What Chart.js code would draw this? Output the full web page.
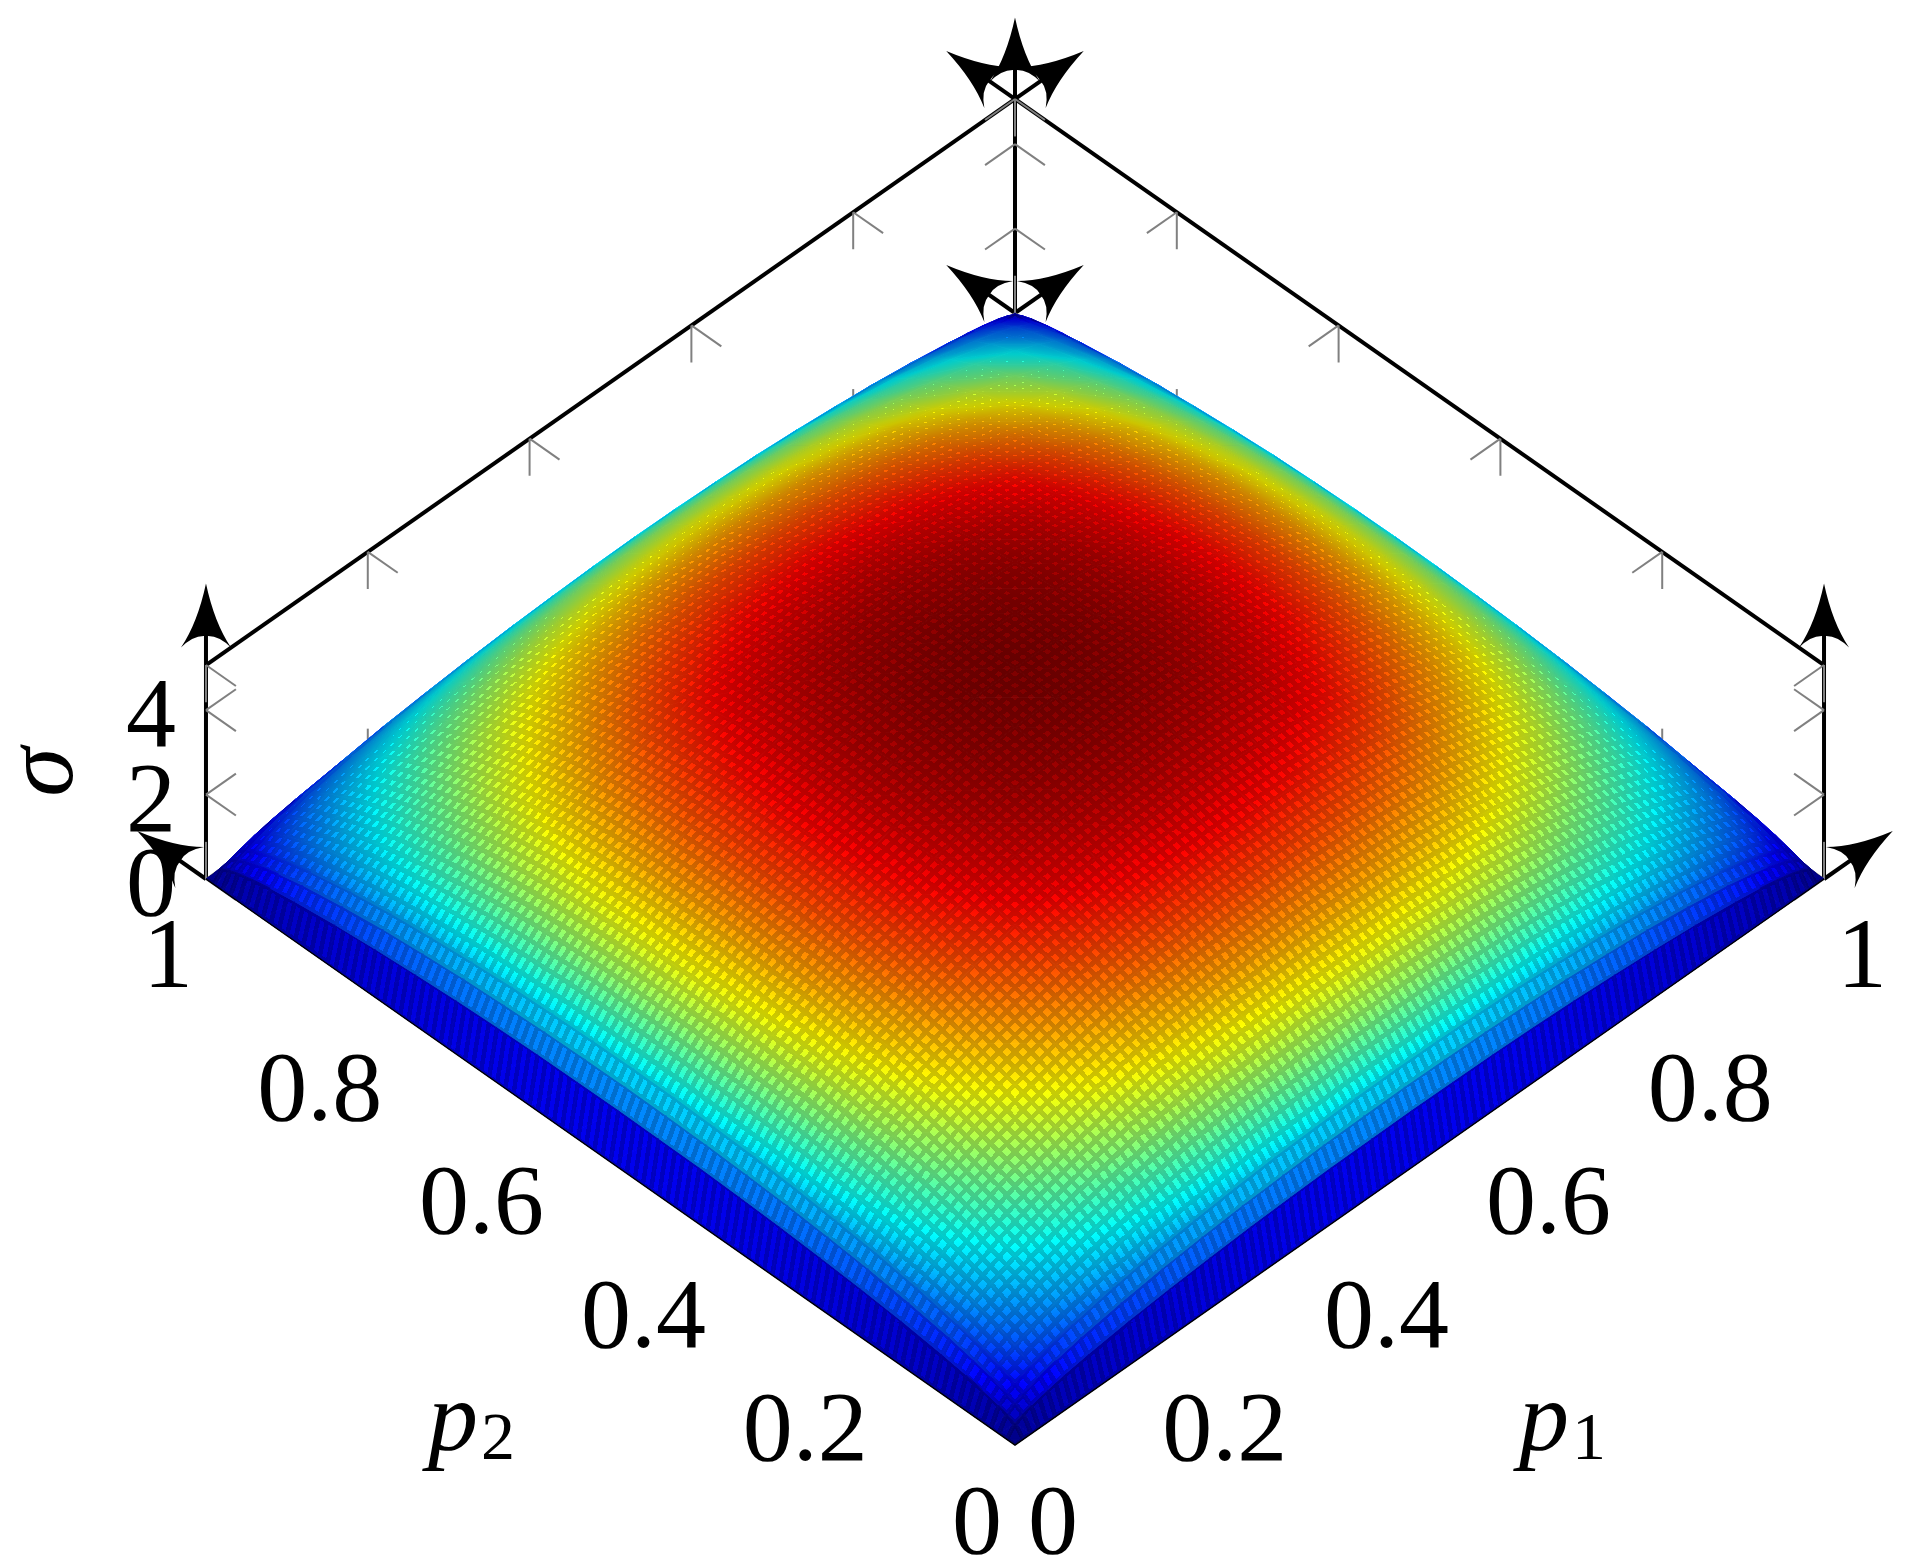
<!DOCTYPE html>
<html>
<head>
<meta charset="utf-8">
<title>sigma surface</title>
<script src="https://cdn.jsdelivr.net/npm/chart.js@4"></script>
<style>
  html, body { margin: 0; padding: 0; background: #fff; }
  canvas { display: block; }
</style>
</head>
<body>
<canvas id="surface_chart" width="1905" height="1563"></canvas>
<script>
// grid nodes from p = 0 to p = 0.5, the other half of the surface mirrors them
var pNodes = [0, 0.01, 0.02, 0.03, 0.05, 0.07, 0.1, 0.15, 0.2, 0.25, 0.3, 0.35, 0.4, 0.45, 0.5];

// sigma at (pNodes[row], pNodes[col])
var sigmaRows = [
    [0, 0, 0, 0, 0, 0, 0, 0, 0, 0, 0, 0, 0, 0, 0],
    [0, 0.24, 0.33, 0.40, 0.50, 0.58, 0.67, 0.79, 0.88, 0.95, 1.01, 1.05, 1.08, 1.09, 1.10],
    [0, 0.33, 0.45, 0.54, 0.68, 0.79, 0.92, 1.08, 1.21, 1.30, 1.38, 1.43, 1.47, 1.49, 1.50],
    [0, 0.40, 0.54, 0.65, 0.81, 0.94, 1.10, 1.30, 1.45, 1.56, 1.65, 1.72, 1.76, 1.79, 1.80],
    [0, 0.50, 0.68, 0.81, 1.01, 1.16, 1.35, 1.60, 1.80, 1.95, 2.07, 2.15, 2.21, 2.24, 2.25],
    [0, 0.58, 0.79, 0.94, 1.16, 1.30, 1.54, 1.84, 2.07, 2.25, 2.40, 2.50, 2.57, 2.61, 2.62],
    [0, 0.67, 0.92, 1.10, 1.35, 1.54, 1.79, 2.14, 2.40, 2.62, 2.79, 2.91, 2.99, 3.03, 3.05],
    [0, 0.79, 1.08, 1.30, 1.60, 1.84, 2.14, 2.53, 2.84, 3.09, 3.30, 3.43, 3.53, 3.58, 3.60],
    [0, 0.88, 1.21, 1.45, 1.80, 2.07, 2.40, 2.84, 3.18, 3.47, 3.69, 3.84, 3.94, 4.00, 4.02],
    [0, 0.95, 1.30, 1.56, 1.95, 2.25, 2.62, 3.09, 3.47, 3.77, 4.00, 4.16, 4.27, 4.32, 4.34],
    [0, 1.01, 1.38, 1.65, 2.07, 2.40, 2.79, 3.30, 3.69, 4.00, 4.26, 4.42, 4.52, 4.58, 4.60],
    [0, 1.05, 1.43, 1.72, 2.15, 2.50, 2.91, 3.43, 3.84, 4.16, 4.42, 4.60, 4.70, 4.76, 4.78],
    [0, 1.08, 1.47, 1.76, 2.21, 2.57, 2.99, 3.53, 3.94, 4.27, 4.52, 4.70, 4.82, 4.88, 4.90],
    [0, 1.09, 1.49, 1.79, 2.24, 2.61, 3.03, 3.58, 4.00, 4.32, 4.58, 4.76, 4.88, 4.95, 4.98],
    [0, 1.10, 1.50, 1.80, 2.25, 2.62, 3.05, 3.60, 4.02, 4.34, 4.60, 4.78, 4.90, 4.98, 5.00]
];

var pTicks = [0, 0.2, 0.4, 0.6, 0.8, 1];
var pTickLabels = ["0", "0.2", "0.4", "0.6", "0.8", "1"];
var sigmaTicks = [0, 2, 4];
var sigmaTickLabels = ["0", "2", "4"];

var sigmaTop = 5.07;   // top of the box
var sigmaArrow = 7;    // tip of the vertical arrows
var pArrow = 1.085;    // tip of the floor arrows
var sigmaColorMax = 5;
var colormap = [
    [0, 0, 0, 127],
    [0.125, 0, 0, 255],
    [0.375, 0, 255, 255],
    [0.625, 255, 255, 0],
    [0.875, 255, 0, 0],
    [1, 127, 0, 0]
];

// the original has a mesh line every 0.01 of p, a few px wide and a bit darker
var meshStep = 0.01, meshWidth = 4.6, meshDark = "rgba(0,0,0,0.2)", meshTile = 20;

var fontName = '"Liberation Serif"';

// view coordinates, the hidden scales turn them into pixels
function viewX(p1, p2) { return p1 - p2; }
function viewY(p1, p2, s) { return p1 + p2 + s * 0.07456; }
function view(p1, p2, s) { return { x: viewX(p1, p2), y: viewY(p1, p2, s) }; }

function jet(s) {
    var t = Math.max(0, Math.min(1, s / sigmaColorMax));
    for (var i = 1; i < colormap.length; i++) {
        if (t <= colormap[i][0]) {
            var a = colormap[i - 1], b = colormap[i];
            var f = (t - a[0]) / (b[0] - a[0]);
            return "rgb(" + [1, 2, 3].map(function (k) {
                return Math.round(a[k] + (b[k] - a[k]) * f);
            }).join(",") + ")";
        }
    }
    return "rgb(127,0,0)";
}

// full grid, mirrored around p = 0.5
var allP = pNodes.concat(pNodes.slice(0, -1).reverse().map(function (p) { return 1 - p; }));
function nodeIndex(i) { return i < pNodes.length ? i : allP.length - 1 - i; }
function sigmaAt(i, j) { return sigmaRows[nodeIndex(i)][nodeIndex(j)]; }

// cells one mesh step deep are flat coloured across that step, as in the original
function cellColorValue(i, j, n) {
    var narrowI = allP[i + 1] - allP[i] < meshStep * 1.1;
    var narrowJ = allP[j + 1] - allP[j] < meshStep * 1.1;
    var rows = narrowI ? [i, i + 1] : [n[0]];
    var cols = narrowJ ? [j, j + 1] : [n[1]];
    var sum = 0, count = 0;
    rows.forEach(function (r) {
        cols.forEach(function (c) { sum += sigmaAt(r, c); count++; });
    });
    return sum / count;
}

// one triangle gets a linear gradient running across its sigma values
function triangleGradient(chart, verts) {
    var xs = chart.scales.x, ys = chart.scales.y;
    var v = verts.map(function (d) {
        return { x: xs.getPixelForValue(d.x), y: ys.getPixelForValue(d.y), s: d.c };
    }).sort(function (a, b) { return a.s - b.s; });
    var lo = v[0], mid = v[1], hi = v[2];
    if (!isFinite(lo.x) || !isFinite(lo.y)) return null; // no pixels yet on the first pass
    if (hi.s - lo.s < 0.001) return jet(lo.s);
    var f = (mid.s - lo.s) / (hi.s - lo.s);
    var qx = lo.x + (hi.x - lo.x) * f, qy = lo.y + (hi.y - lo.y) * f;
    var dx = qx - mid.x, dy = qy - mid.y;
    var len = Math.sqrt(dx * dx + dy * dy);
    if (len < 0.001) { dx = -(hi.y - lo.y); dy = hi.x - lo.x; len = Math.sqrt(dx * dx + dy * dy); }
    var nx = -dy / len, ny = dx / len;
    var reach = (hi.x - lo.x) * nx + (hi.y - lo.y) * ny;
    var ex = lo.x + nx * reach, ey = lo.y + ny * reach;
    if (!isFinite(ex) || !isFinite(ey)) return jet(lo.s);
    var g = chart.ctx.createLinearGradient(lo.x, lo.y, ex, ey);
    for (var k = 0; k <= 4; k++) {
        g.addColorStop(k / 4, jet(lo.s + (hi.s - lo.s) * k / 4));
    }
    return g;
}

var meshTiles = {};
function getMeshTile(a, b) {
    var key = a + "_" + b;
    if (!meshTiles[key]) {
        var c = document.createElement("canvas");
        c.width = meshTile;
        c.height = meshTile;
        var t = c.getContext("2d");
        t.fillStyle = meshDark;
        var hi = Math.ceil(a / 2), hj = Math.ceil(b / 2);
        for (var u = 0; u < meshTile; u++) {
            for (var w = 0; w < meshTile; w++) {
                if (u < hi || u >= meshTile - hi || w < hj || w >= meshTile - hj) t.fillRect(u, w, 1, 1);
            }
        }
        meshTiles[key] = c;
    }
    return meshTiles[key];
}

// the mesh is a pattern laid in p1,p2 space, so it follows the plane of each triangle
function trianglePattern(chart, verts) {
    var xs = chart.scales.x, ys = chart.scales.y;
    var v = verts.map(function (d) {
        return { x: xs.getPixelForValue(d.x), y: ys.getPixelForValue(d.y), p1: d.p1, p2: d.p2 };
    });
    if (!isFinite(v[0].x) || !isFinite(v[0].y)) return null;
    var a1 = v[1].p1 - v[0].p1, b1 = v[1].p2 - v[0].p2;
    var a2 = v[2].p1 - v[0].p1, b2 = v[2].p2 - v[0].p2;
    var det = a1 * b2 - a2 * b1;
    var ex1 = v[1].x - v[0].x, ey1 = v[1].y - v[0].y, ex2 = v[2].x - v[0].x, ey2 = v[2].y - v[0].y;
    var xp1 = (ex1 * b2 - ex2 * b1) / det, yp1 = (ey1 * b2 - ey2 * b1) / det;
    var xp2 = (ex2 * a1 - ex1 * a2) / det, yp2 = (ey2 * a1 - ey1 * a2) / det;
    // triangles turned away from the viewer are hidden, they must not darken what is in front
    if (xp1 * yp2 - xp2 * yp1 > 0) return "rgba(0,0,0,0)";
    var area = Math.abs(xp1 * yp2 - xp2 * yp1);
    // space between neighbour mesh lines on screen, in px
    var gapP1 = meshStep * area / Math.max(1e-6, Math.sqrt(xp2 * xp2 + yp2 * yp2));
    var gapP2 = meshStep * area / Math.max(1e-6, Math.sqrt(xp1 * xp1 + yp1 * yp1));
    var lev1 = Math.min(meshTile, Math.round(meshTile * meshWidth / Math.max(0.01, gapP1)));
    var lev2 = Math.min(meshTile, Math.round(meshTile * meshWidth / Math.max(0.01, gapP2)));
    var pat = chart.ctx.createPattern(getMeshTile(lev1, lev2), "repeat");
    var k = meshStep / meshTile;
    pat.setTransform(new DOMMatrix([
        xp1 * k, yp1 * k, xp2 * k, yp2 * k,
        v[0].x - xp1 * v[0].p1 - xp2 * v[0].p2,
        v[0].y - yp1 * v[0].p1 - yp2 * v[0].p2
    ]));
    return pat;
}

function triangleDatasets(i, j, a, b, c) {
    var pts = [a, b, c, a].map(function (n) {
        var p1 = allP[n[0]], p2 = allP[n[1]], s = sigmaAt(n[0], n[1]);
        return { x: viewX(p1, p2), y: viewY(p1, p2, s), p1: p1, p2: p2, c: cellColorValue(i, j, n) };
    });
    var paint = null, mesh = null;
    function getPaint(ctx) {
        if (!paint) paint = triangleGradient(ctx.chart, pts.slice(0, 3));
        return paint || "rgba(0,0,0,0)";
    }
    function getMesh(ctx) {
        if (!mesh) mesh = trianglePattern(ctx.chart, pts.slice(0, 3));
        return mesh || "rgba(0,0,0,0)";
    }
    return {
        key: allP[a[0]] + allP[a[1]] + allP[b[0]] + allP[b[1]] + allP[c[0]] + allP[c[1]],
        base: { data: pts, fill: "shape", backgroundColor: getPaint, borderColor: getPaint, borderWidth: 1, pointRadius: 0, tension: 0 },
        mesh: { data: pts, fill: "shape", backgroundColor: getMesh, borderWidth: 0, pointRadius: 0, tension: 0 }
    };
}

var triangles = [];
for (var i = 0; i < allP.length - 1; i++) {
    for (var j = 0; j < allP.length - 1; j++) {
        triangles.push(triangleDatasets(i, j, [i, j], [i + 1, j], [i, j + 1]));
        triangles.push(triangleDatasets(i, j, [i + 1, j + 1], [i + 1, j], [i, j + 1]));
    }
}
// front of the surface is painted last, chart.js draws high order first,
// all colours go down before any mesh so the seams stay hidden
triangles.sort(function (a, b) { return a.key - b.key; });

var datasets = [];
triangles.forEach(function (t, n) {
    t.base.order = n + 4000;
    t.mesh.order = n + 10;
    datasets.push(t.base);
    datasets.push(t.mesh);
});

function lineSet(points, color, width, order) {
    return {
        data: points,
        fill: false,
        borderColor: color,
        borderWidth: width,
        pointRadius: 0,
        tension: 0,
        order: order
    };
}

var blackOrder = 9000, tickOrder = 8000;
var black = "#000", grey = "#808080";

// box behind the surface
datasets.push(lineSet([view(0, 1, 0), view(0, 1, sigmaArrow - 0.5)], black, 4, blackOrder));
datasets.push(lineSet([view(1, 0, 0), view(1, 0, sigmaArrow - 0.5)], black, 4, blackOrder));
datasets.push(lineSet([view(1, 1, 0), view(1, 1, sigmaArrow - 0.5)], black, 4, blackOrder));
datasets.push(lineSet([view(0, 1, sigmaTop), view(pArrow - 0.03, 1, sigmaTop)], black, 4, blackOrder));
datasets.push(lineSet([view(1, 0, sigmaTop), view(1, pArrow - 0.03, sigmaTop)], black, 4, blackOrder));
datasets.push(lineSet([view(0, 1, 0), view(0, pArrow - 0.03, 0)], black, 4, blackOrder));
datasets.push(lineSet([view(1, 0, 0), view(pArrow - 0.03, 0, 0)], black, 4, blackOrder));
datasets.push(lineSet([view(1, 1, 0), view(pArrow - 0.03, 1, 0)], black, 4, blackOrder));
datasets.push(lineSet([view(1, 1, 0), view(1, pArrow - 0.03, 0)], black, 4, blackOrder));

// thin floor edges in front
datasets.push(lineSet([view(0, 1, 0), view(0, 0, 0), view(1, 0, 0)], black, 1.5, 0));

// grey tick stubs
var stubP = 0.037, stubS = 0.88;
function tick(from, to) { datasets.push(lineSet([from, to], grey, 2, tickOrder)); }
pTicks.forEach(function (t) {
    tick(view(t, 1, sigmaTop), view(t, 1, sigmaTop - stubS));
    tick(view(t, 1, sigmaTop), view(t, 1 - stubP, sigmaTop));
    tick(view(t, 1, 0), view(t, 1, stubS));
    tick(view(1, t, sigmaTop), view(1, t, sigmaTop - stubS));
    tick(view(1, t, sigmaTop), view(1 - stubP, t, sigmaTop));
    tick(view(1, t, 0), view(1, t, stubS));
});
sigmaTicks.forEach(function (s) {
    tick(view(0, 1, s), view(0, 1 - stubP, s));
    tick(view(0, 1, s), view(stubP, 1, s));
    tick(view(1, 0, s), view(1 - stubP, 0, s));
    tick(view(1, 0, s), view(1, stubP, s));
    tick(view(1, 1, s), view(1 - stubP, 1, s));
    tick(view(1, 1, s), view(1, 1 - stubP, s));
});

// arrow heads, [tip, point on the shaft]
var arrows = [
    [view(0, 1, sigmaArrow), view(0, 1, 0)],
    [view(1, 0, sigmaArrow), view(1, 0, 0)],
    [view(1, 1, sigmaArrow), view(1, 1, 0)],
    [view(pArrow, 1, sigmaTop), view(1, 1, sigmaTop)],
    [view(1, pArrow, sigmaTop), view(1, 1, sigmaTop)],
    [view(pArrow, 1, 0), view(1, 1, 0)],
    [view(1, pArrow, 0), view(1, 1, 0)],
    [view(0, pArrow, 0), view(0, 1, 0)],
    [view(pArrow, 0, 0), view(1, 0, 0)]
];

function drawHead(ctx, tx, ty, bx, by) {
    var L = 64, w = 25;
    ctx.save();
    ctx.translate(tx, ty);
    ctx.rotate(Math.atan2(by - ty, bx - tx) - Math.PI / 2);
    ctx.fillStyle = "#000";
    ctx.beginPath();
    ctx.moveTo(0, 0);
    ctx.quadraticCurveTo(w * 0.34, L * 0.62, w, L);
    ctx.quadraticCurveTo(w * 0.5, L * 0.8, 0, L * 0.82);
    ctx.quadraticCurveTo(-w * 0.5, L * 0.8, -w, L);
    ctx.quadraticCurveTo(-w * 0.34, L * 0.62, 0, 0);
    ctx.fill();
    ctx.restore();
}

var arrowPlugin = {
    id: "arrowHeads",
    beforeDatasetsDraw: function (chart) {
        var xs = chart.scales.x, ys = chart.scales.y;
        chart.ctx.imageSmoothingEnabled = false;
        arrows.forEach(function (a) {
            drawHead(chart.ctx, xs.getPixelForValue(a[0].x), ys.getPixelForValue(a[0].y),
                xs.getPixelForValue(a[1].x), ys.getPixelForValue(a[1].y));
        });
    }
};

function text(ctx, str, cx, cy, font) {
    ctx.font = font;
    ctx.fillText(str, cx, cy);
}

var labelPlugin = {
    id: "axisLabels",
    afterDatasetsDraw: function (chart) {
        var ctx = chart.ctx, xs = chart.scales.x, ys = chart.scales.y;
        var font = "100px " + fontName, italic = "italic 100px " + fontName, sub = "68px " + fontName;
        ctx.save();
        ctx.fillStyle = "#000";
        ctx.textAlign = "center";
        ctx.textBaseline = "alphabetic";
        pTicks.forEach(function (t, n) {
            var wide = pTickLabels[n].length > 1;
            var dx = wide ? 48 : 38, dy = (wide ? 94 : 74) + 34;
            text(ctx, pTickLabels[n], xs.getPixelForValue(viewX(t, 0)) + dx, ys.getPixelForValue(viewY(t, 0, 0)) + dy, font);
            text(ctx, pTickLabels[n], xs.getPixelForValue(viewX(0, t)) - dx, ys.getPixelForValue(viewY(0, t, 0)) + dy, font);
        });
        sigmaTicks.forEach(function (s, n) {
            text(ctx, sigmaTickLabels[n], xs.getPixelForValue(viewX(0, 1)) - 55, ys.getPixelForValue(viewY(0, 1, s)) + 36, font);
        });
        text(ctx, "p", 453, 1450, italic);
        text(ctx, "2", 498, 1459, sub);
        text(ctx, "p", 1544, 1450, italic);
        text(ctx, "1", 1589, 1459, sub);
        ctx.translate(72, 772);
        ctx.rotate(-Math.PI / 2);
        text(ctx, "σ", 0, 0, italic);
        ctx.restore();
    }
};

new Chart(document.getElementById("surface_chart").getContext("2d"), {
    type: "line",
    data: { datasets: datasets },
    plugins: [arrowPlugin, labelPlugin],
    options: {
        responsive: false,
        animation: false,
        events: [],
        layout: { padding: 0 },
        plugins: { legend: { display: false }, tooltip: { enabled: false } },
        scales: {
            x: { type: "linear", min: -1.2546, max: 1.1001, display: false },
            y: { type: "linear", min: -0.2085, max: 2.553, display: false }
        }
    }
});
</script>
</body>
</html>
